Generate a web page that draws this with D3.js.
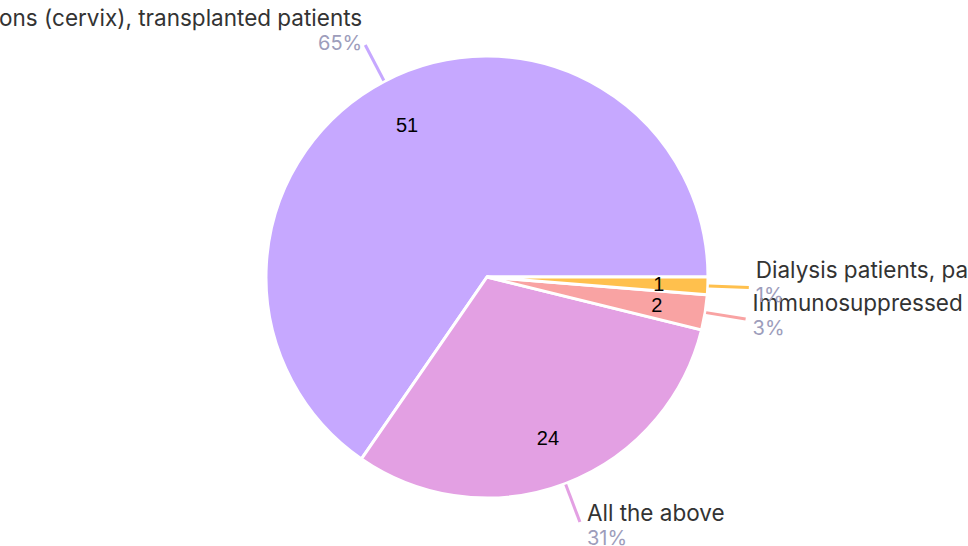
<!DOCTYPE html>
<html>
<head>
<meta charset="utf-8">
<script src="https://cdn.jsdelivr.net/npm/d3@7"></script>
<style>
  html, body { margin: 0; padding: 0; background: #fff; overflow: hidden; }
  #chart { width: 968px; height: 546px; }
</style>
</head>
<body>
<div id="chart"></div>
<script>
(function () {
  "use strict";

  var categories = [
    "Women with precancerous lesions (cervix), transplanted patients",
    "All the above",
    "Immunosuppressed patients",
    "Dialysis patients, patients with chronic diseases"
  ];
  var values = [51, 24, 2, 1];
  var colors = ["#c6a8ff", "#e3a0e3", "#f9a3a3", "#ffc04d"];

  var WIDTH = 968;
  var HEIGHT = 546;
  var CX = 487;
  var CY = 277;
  var RADIUS = 221;

  var total = d3.sum(values);
  var rows = categories.map(function (c, i) {
    return { name: c, value: values[i], color: colors[i] };
  });

  var svg = d3.select("#chart")
    .append("svg")
    .attr("width", WIDTH)
    .attr("height", HEIGHT)
    .attr("viewBox", [0, 0, WIDTH, HEIGHT]);

  var g = svg.append("g").attr("transform", "translate(" + CX + "," + CY + ")");

  // counter-clockwise from 3 o'clock
  var pie = d3.pie()
    .value(function (d) { return d.value; })
    .sort(null)
    .startAngle(Math.PI / 2)
    .endAngle(Math.PI / 2 - 2 * Math.PI);

  var arc = d3.arc().innerRadius(0).outerRadius(RADIUS);
  var arcs = pie(rows);

  g.selectAll("path.slice")
    .data(arcs)
    .join("path")
    .attr("class", "slice")
    .attr("d", arc)
    .attr("fill", function (d) { return d.data.color; })
    .attr("stroke", "#fff")
    .attr("stroke-width", 3)
    .attr("stroke-linejoin", "miter");

  function midAngle(d) { return (d.startAngle + d.endAngle) / 2; }
  function pt(a, r) { return [Math.sin(a) * r, -Math.cos(a) * r]; }

  // value inside slice
  g.selectAll("text.val")
    .data(arcs)
    .join("text")
    .attr("class", "val")
    .attr("x", function (d) { return pt(midAngle(d), 172)[0]; })
    .attr("y", function (d) { return pt(midAngle(d), 172)[1]; })
    .attr("text-anchor", "middle")
    .attr("dominant-baseline", "central")
    .attr("font-family", "Liberation Sans, Arial, sans-serif")
    .attr("font-size", 20)
    .attr("fill", "#000")
    .text(function (d) { return d.data.value; });

  // leader lines
  g.selectAll("line.lead")
    .data(arcs)
    .join("line")
    .attr("class", "lead")
    .attr("x1", function (d) { return pt(midAngle(d), RADIUS + 1)[0]; })
    .attr("y1", function (d) { return pt(midAngle(d), RADIUS + 1)[1]; })
    .attr("x2", function (d) { return pt(midAngle(d), 262)[0]; })
    .attr("y2", function (d) { return pt(midAngle(d), 262)[1]; })
    .attr("stroke", function (d) { return d.data.color; })
    .attr("stroke-width", 3);

  var labels = g.selectAll("g.lbl")
    .data(arcs)
    .join("g")
    .attr("class", "lbl")
    .attr("transform", function (d) {
      var a = midAngle(d);
      var e = pt(a, 262);
      var right = e[0] > 0;
      var x = e[0] + (right ? 7 : -3);
      var y = e[1] + (-Math.cos(a)) * 10;
      return "translate(" + x + "," + y + ")";
    })
    .attr("text-anchor", function (d) { return pt(midAngle(d), 1)[0] > 0 ? "start" : "end"; })
    .attr("font-family", "Inter, 'Open Sans', sans-serif");

  labels.append("text")
    .attr("y", -10)
    .attr("font-size", 22.5)
    .attr("fill", "#333")
    .text(function (d) { return d.data.name; });

  labels.append("text")
    .attr("y", 14)
    .attr("font-size", 20)
    .attr("fill", "#9d9dbb")
    .text(function (d) { return Math.round(d.data.value / total * 100) + "%"; });
})();
</script>
</body>
</html>
